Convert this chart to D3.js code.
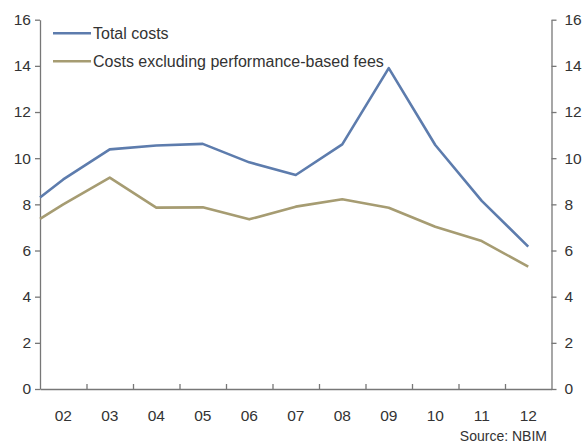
<!DOCTYPE html>
<html>

<head>
    <script src="https://d3js.org/d3.v7.min.js"></script>
    <style>
        body {
            margin: 0;
            padding: 0;
            background: #fff;
        }

        text {
            font-family: "Liberation Sans", Arial, sans-serif;
            fill: #333;
        }
    </style>
</head>

<body>
    <script>
        var width = 582,
            height = 444;

        // first point sits on the left edge of the plot
        var years = [2001.5, 2002, 2003, 2004, 2005, 2006, 2007, 2008, 2009, 2010, 2011, 2012];
        var totalCosts = [8.3, 9.08, 10.38, 10.55, 10.62, 9.82, 9.27, 10.6, 13.9, 10.57, 8.15, 6.17];
        var exclPerfFees = [7.37, 8.0, 9.16, 7.86, 7.87, 7.35, 7.9, 8.22, 7.85, 7.03, 6.41, 5.3];
        var xLabels = ["02", "03", "04", "05", "06", "07", "08", "09", "10", "11", "12"];
        var yTicks = [0, 2, 4, 6, 8, 10, 12, 14, 16];
        var seriesNames = ["Total costs", "Costs excluding performance-based fees"];
        var colors = ["#5d7cad", "#a69c72"];

        var plotLeft = 40, plotRight = 551.5, plotTop = 19.7, plotBottom = 389;

        var svg = d3.select("body").append("svg")
            .attr("width", width)
            .attr("height", height);

        var x = d3.scaleLinear().domain([2001.5, 2012.5]).range([plotLeft, plotRight]);
        var y = d3.scaleLinear().domain([0, 16]).range([plotBottom, plotTop]);

        // y axes
        var yLeft = d3.axisLeft(y).tickValues(yTicks).tickSize(5).tickPadding(4).tickSizeOuter(0);
        var yRight = d3.axisRight(y).tickValues(yTicks).tickSize(5).tickPadding(8).tickSizeOuter(0);

        var gl = svg.append("g").attr("transform", "translate(" + plotLeft + ",0)").call(yLeft);
        var gr = svg.append("g").attr("transform", "translate(" + plotRight + ",0)").call(yRight);

        // x axis: ticks at year boundaries, pointing up
        var xTickVals = d3.range(2002.5, 2012, 1);
        var xAxis = d3.axisBottom(x).tickValues(xTickVals).tickSize(-5).tickSizeOuter(0).tickFormat("");
        var gx = svg.append("g").attr("transform", "translate(0," + plotBottom + ")").call(xAxis);

        [gl, gr, gx].forEach(function (g) {
            g.select(".domain").attr("stroke", "#777").attr("stroke-width", 1.3);
            g.selectAll(".tick line").attr("stroke", "#777").attr("stroke-width", 1.3);
            g.selectAll("text").attr("font-size", 15.5).attr("fill", "#333")
                .style("font-family", "'Liberation Sans', Arial, sans-serif");
        });

        svg.append("g").selectAll("text")
            .data(xLabels)
            .join("text")
            .attr("x", (d, i) => x(2002 + i))
            .attr("y", 421)
            .attr("text-anchor", "middle")
            .attr("font-size", 15.5)
            .text(d => d);

        var line = d3.line()
            .x((d, i) => x(years[i]))
            .y(d => y(d));

        [totalCosts, exclPerfFees].forEach(function (s, k) {
            svg.append("path")
                .datum(s)
                .attr("d", line)
                .attr("fill", "none")
                .attr("stroke", colors[k])
                .attr("stroke-width", 2.6)
                .attr("stroke-linejoin", "round");
        });

        // legend
        var legend = svg.append("g").selectAll("g")
            .data(seriesNames)
            .join("g")
            .attr("transform", (d, i) => "translate(53," + (33.3 + i * 28) + ")");
        legend.append("line")
            .attr("x1", 0).attr("x2", 38)
            .attr("stroke", (d, i) => colors[i])
            .attr("stroke-width", 2.6);
        legend.append("text")
            .attr("x", 40)
            .attr("y", 5.5)
            .attr("font-size", 16)
            .text(d => d);

        svg.append("text")
            .attr("x", 547)
            .attr("y", 441)
            .attr("text-anchor", "end")
            .attr("font-size", 14)
            .text("Source: NBIM");
    </script>
</body>

</html>
